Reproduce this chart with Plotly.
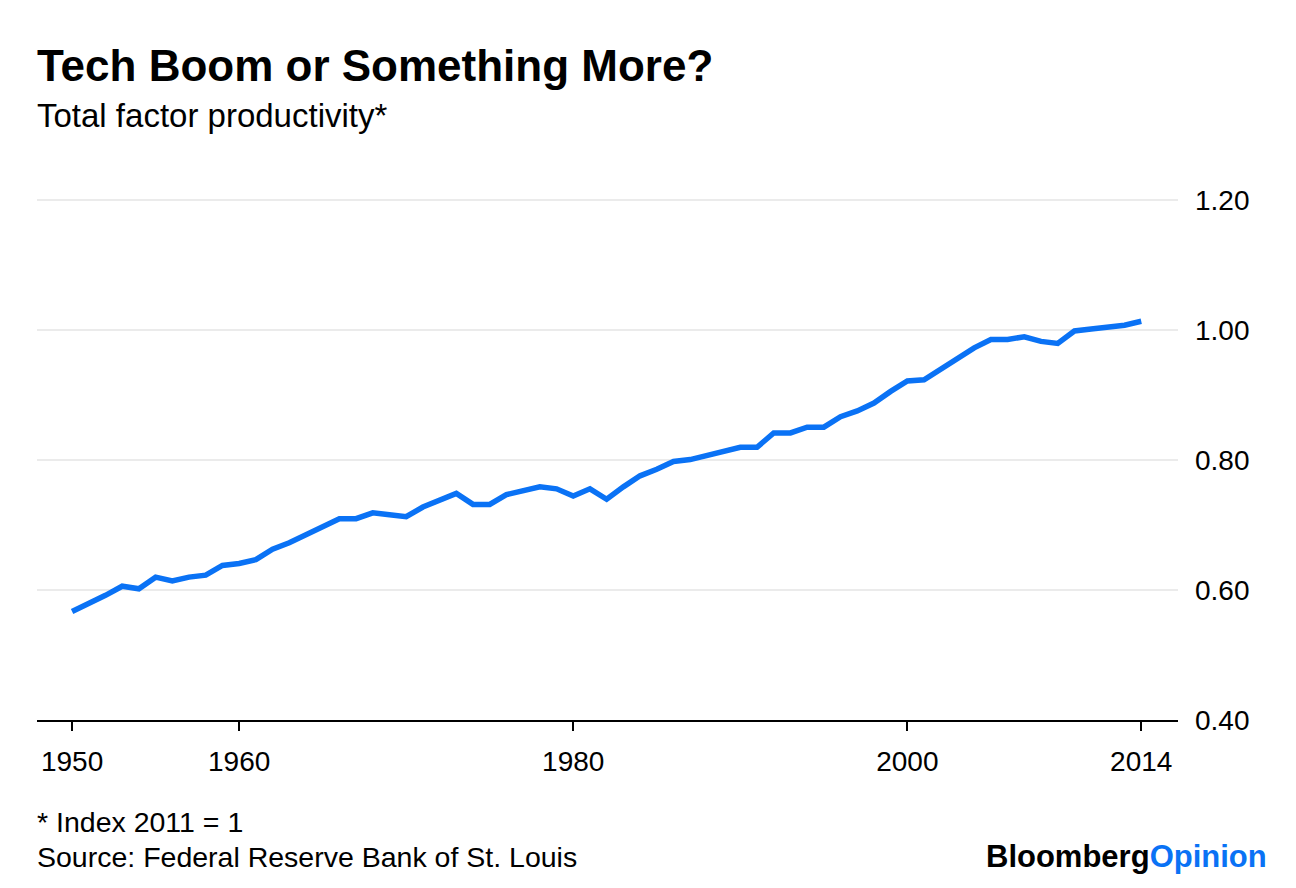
import plotly.graph_objects as go

years = list(range(1950, 2015))
tfp = [0.567, 0.579, 0.592, 0.606, 0.602, 0.620, 0.614, 0.620, 0.623, 0.638,
       0.641, 0.647, 0.663, 0.673, 0.685, 0.698, 0.710, 0.710, 0.719, 0.716,
       0.713, 0.728, 0.738, 0.749, 0.732, 0.732, 0.747, 0.753, 0.759, 0.756,
       0.745, 0.756, 0.740, 0.759, 0.776, 0.786, 0.798, 0.801, 0.807, 0.814,
       0.820, 0.820, 0.842, 0.842, 0.851, 0.851, 0.867, 0.876, 0.888, 0.906,
       0.922, 0.924, 0.940, 0.958, 0.973, 0.986, 0.986, 0.990, 0.983, 0.980,
       0.999, 1.002, 1.005, 1.008, 1.014]

x_ticks = [1950, 1960, 1980, 2000, 2014]
y_ticks = [0.40, 0.60, 0.80, 1.00, 1.20]
y_labels = ["0.40", "0.60", "0.80", "1.00", "1.20"]

title = "Tech Boom or Something More?"
subtitle = "Total factor productivity*"
note = "* Index 2011 = 1"
source = "Source: Federal Reserve Bank of St. Louis"

BLUE = "#0a72f5"
FONT = "Liberation Sans, Arial, sans-serif"

fig = go.Figure()
fig.add_trace(go.Scatter(
    x=years, y=tfp, mode="lines",
    line=dict(color=BLUE, width=5.5),
    hoverinfo="skip", showlegend=False,
))

W, H = 1296, 888
OFF = 8  # page body margin
L, R, T, B = 29, 126, 186, 176
ph = H - T - B
pw = W - L - R

def py(page_pix):
    return (H - B - (page_pix - OFF)) / ph

def px(page_pix):
    return ((page_pix - OFF) - L) / pw

fig.update_layout(
    width=W, height=H,
    margin=dict(l=L, r=R, t=T, b=B, pad=0),
    paper_bgcolor="white", plot_bgcolor="white",
    font=dict(family=FONT, color="black", size=28),
    xaxis=dict(
        range=[1947.9, 2016.2],
        tickmode="array", tickvals=x_ticks, ticktext=[str(v) for v in x_ticks],
        ticks="outside", ticklen=9, tickwidth=2, tickcolor="black",
        showline=True, linecolor="black", linewidth=2,
        showgrid=False, zeroline=False,
        tickfont=dict(size=28, family=FONT, color="black"),
        ticklabelstandoff=6,
    ),
    yaxis=dict(
        range=[0.4, 1.21], side="right",
        tickmode="array", tickvals=y_ticks, ticktext=y_labels,
        ticks="", showgrid=True, gridcolor="#ebebeb", gridwidth=2,
        zeroline=False, showline=False,
        tickfont=dict(size=28, family=FONT, color="black"),
        ticklabelstandoff=16,
    ),
    annotations=[
        dict(text="<b>" + title + "</b>", x=px(35), y=py(66), xref="paper", yref="paper",
             xanchor="left", yanchor="middle", showarrow=False,
             font=dict(size=44, family=FONT, color="black")),
        dict(text=subtitle, x=px(35), y=py(115), xref="paper", yref="paper",
             xanchor="left", yanchor="middle", showarrow=False,
             font=dict(size=33, family=FONT, color="black")),
        dict(text=note, x=px(35), y=py(822), xref="paper", yref="paper",
             xanchor="left", yanchor="middle", showarrow=False,
             font=dict(size=28.5, family=FONT, color="black")),
        dict(text=source, x=px(35), y=py(857), xref="paper", yref="paper",
             xanchor="left", yanchor="middle", showarrow=False,
             font=dict(size=28.5, family=FONT, color="black")),
        dict(text="<b>Bloomberg</b><b><span style='color:" + BLUE + "'>Opinion</span></b>",
             x=px(1269), y=py(856), xref="paper", yref="paper",
             xanchor="right", yanchor="middle", showarrow=False,
             font=dict(size=31, family=FONT, color="black")),
    ],
)

fig.write_html("out.html")
